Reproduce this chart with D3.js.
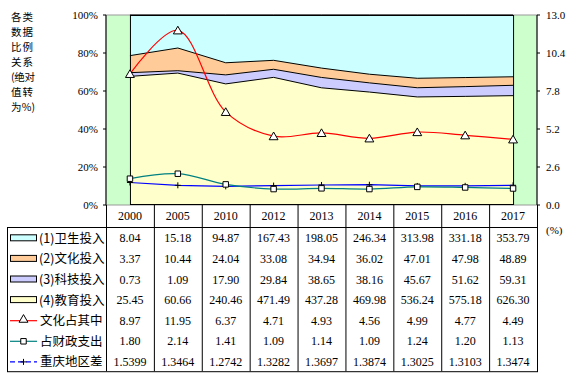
<!DOCTYPE html>
<html>
<head>
<meta charset="utf-8">
<script src="https://cdn.jsdelivr.net/npm/d3@7"></script>
<style>
  body { margin: 0; background: #fff; }
  svg { display: block; }
</style>
</head>
<body>
<div id="chart"></div>
<script>
const years = ["2000", "2005", "2010", "2012", "2013", "2014", "2015", "2016", "2017"];
const health = [8.04, 15.18, 94.87, 167.43, 198.05, 246.34, 313.98, 331.18, 353.79];
const culture = [3.37, 10.44, 24.04, 33.08, 34.94, 36.02, 47.01, 47.98, 48.89];
const science = [0.73, 1.09, 17.90, 29.84, 38.65, 38.16, 45.67, 51.62, 59.31];
const education = [25.45, 60.66, 240.46, 471.49, 437.28, 469.98, 536.24, 575.18, 626.30];
const cultureShare = [8.97, 11.95, 6.37, 4.71, 4.93, 4.56, 4.99, 4.77, 4.49];
const fiscalShare = [1.80, 2.14, 1.41, 1.09, 1.14, 1.09, 1.24, 1.20, 1.13];
const regionGap = ["1.5399", "1.3464", "1.2742", "1.3282", "1.3697", "1.3874", "1.3025", "1.3103", "1.3474"];
const leftTicks = [0, 0.2, 0.4, 0.6, 0.8, 1.0];
const rightTicks = [0, 2.6, 5.2, 7.8, 10.4, 13.0];
const titleLines = ["各类", "数据", "比例", "关系", "(绝对", "值转", "为%)"];

const W = 576, H = 376;
const plot = { left: 106, right: 537, top: 15, bottom: 205 };
const serif = "'Liberation Serif', 'Times New Roman', serif";
const cjk = "'Noto Sans CJK SC', sans-serif";

const svg = d3.select("#chart").append("svg").attr("width", W).attr("height", H);

const x = d3.scaleBand().domain(years).range([plot.left, plot.right]);
const cx = (d) => x(d) + x.bandwidth() / 2;
const yL = d3.scaleLinear().domain([0, 1]).range([plot.bottom, plot.top]);
const yR = d3.scaleLinear().domain([0, 13]).range([plot.bottom, plot.top]);

// plot background
svg.append("rect")
  .attr("x", plot.left).attr("y", plot.top)
  .attr("width", plot.right - plot.left).attr("height", plot.bottom - plot.top)
  .attr("fill", "#ccffcc").attr("stroke", "#999").attr("stroke-width", 1);

// stacked 100% areas
const rows = years.map((yr, i) => ({
  year: yr, edu: education[i], sci: science[i], cul: culture[i], hea: health[i]
}));
const keys = ["edu", "sci", "cul", "hea"];
const fills = { edu: "#ffffcc", sci: "#ccccff", cul: "#ffcc99", hea: "#ccffff" };
const stacked = d3.stack().keys(keys).offset(d3.stackOffsetExpand)(rows);

const area = d3.area().x((d) => cx(d.data.year)).y0((d) => yL(d[0])).y1((d) => yL(d[1]));
const topLine = d3.line().x((d) => cx(d.data.year)).y((d) => yL(d[1]));

svg.append("g").selectAll("path")
  .data(stacked)
  .join("path")
  .attr("d", area)
  .attr("fill", (s) => fills[s.key]);

svg.append("g").selectAll("path")
  .data(stacked)
  .join("path")
  .attr("d", topLine)
  .attr("fill", "none")
  .attr("stroke", "#000")
  .attr("stroke-width", 1);

// black frame round the stacked block
svg.append("rect")
  .attr("x", cx(years[0]) + 0.5).attr("y", plot.top + 0.5)
  .attr("width", cx(years[years.length - 1]) - cx(years[0]))
  .attr("height", plot.bottom - plot.top - 1)
  .attr("fill", "none").attr("stroke", "#000");

// lines on the right axis
const smooth = d3.line().x((d, i) => cx(years[i])).y((d) => yR(d)).curve(d3.curveCatmullRom);
const straight = d3.line().x((d, i) => cx(years[i])).y((d) => yR(d));

svg.append("path").attr("d", straight(regionGap.map(Number)))
  .attr("fill", "none").attr("stroke", "#0000ff").attr("stroke-width", 1.2);
svg.append("path").attr("d", smooth(fiscalShare))
  .attr("fill", "none").attr("stroke", "#008080").attr("stroke-width", 1.2);
svg.append("path").attr("d", smooth(cultureShare))
  .attr("fill", "none").attr("stroke", "#ff0000").attr("stroke-width", 1.2);

const tri = d3.symbol().type(d3.symbolTriangle).size(34);
const sq = d3.symbol().type(d3.symbolSquare).size(30);

function plusMark(g, px, py) {
  g.append("path")
    .attr("d", `M${px - 3},${py}H${px + 3}M${px},${py - 3}V${py + 3}`)
    .attr("stroke", "#000").attr("stroke-width", 1);
}

const marks = svg.append("g");
regionGap.forEach((v, i) => plusMark(marks, cx(years[i]), yR(+v)));
fiscalShare.forEach((v, i) => {
  marks.append("path").attr("d", sq)
    .attr("transform", `translate(${cx(years[i])},${yR(v)})`)
    .attr("fill", "#fff").attr("stroke", "#000");
});
cultureShare.forEach((v, i) => {
  marks.append("path").attr("d", tri)
    .attr("transform", `translate(${cx(years[i])},${yR(v) + 1})`)
    .attr("fill", "#fff").attr("stroke", "#000");
});

// left axis
const gl = svg.append("g").attr("font-family", serif).attr("font-size", 11);
leftTicks.forEach((t) => {
  gl.append("line").attr("x1", plot.left - 3).attr("x2", plot.left)
    .attr("y1", yL(t)).attr("y2", yL(t)).attr("stroke", "#000");
  gl.append("text").attr("x", 98).attr("y", yL(t) + 4)
    .attr("text-anchor", "end").text(d3.format(".0%")(t));
});
gl.append("line").attr("x1", plot.left).attr("x2", plot.left)
  .attr("y1", plot.top).attr("y2", plot.bottom).attr("stroke", "#000");

// right axis
const gr = svg.append("g").attr("font-family", serif).attr("font-size", 11);
rightTicks.forEach((t) => {
  gr.append("line").attr("x1", plot.right).attr("x2", plot.right + 3)
    .attr("y1", yR(t)).attr("y2", yR(t)).attr("stroke", "#000");
  gr.append("text").attr("x", 546).attr("y", yR(t) + 4).text(t.toFixed(1));
});
gr.append("line").attr("x1", plot.right).attr("x2", plot.right)
  .attr("y1", plot.top).attr("y2", plot.bottom).attr("stroke", "#000");
gr.append("text").attr("x", 546).attr("y", 234).text("(%)");

// title at left
svg.append("g").selectAll("text")
  .data(titleLines)
  .join("text")
  .attr("x", 11).attr("y", (d, i) => 21 + i * 15)
  .attr("font-family", cjk).attr("font-size", 10.5)
  .attr("textLength", (d) => (d.length > 2 ? 24 : 22))
  .text((d) => d);

// data table
const tableLeft = 7, headTop = plot.bottom, bodyTop = 227, rowH = 20.6;
const bodyBottom = bodyTop + rowH * 7;
const tg = svg.append("g");

tg.append("rect")
  .attr("x", tableLeft + 0.5).attr("y", bodyTop + 0.5)
  .attr("width", plot.right - tableLeft).attr("height", bodyBottom - bodyTop)
  .attr("fill", "none").attr("stroke", "#000");
years.forEach((yr) => {
  tg.append("line").attr("x1", x(yr) + 0.5).attr("x2", x(yr) + 0.5)
    .attr("y1", headTop).attr("y2", bodyBottom).attr("stroke", "#000");
});
tg.append("line").attr("x1", plot.right + 0.5).attr("x2", plot.right + 0.5)
  .attr("y1", headTop).attr("y2", bodyBottom).attr("stroke", "#000");

tg.selectAll("text.yr")
  .data(years)
  .join("text")
  .attr("class", "yr")
  .attr("x", cx).attr("y", 220)
  .attr("text-anchor", "middle")
  .attr("font-family", serif).attr("font-size", 12)
  .text((d) => d);

const tableRows = [
  { label: "(1)卫生投入", vals: health.map((v) => v.toFixed(2)), kind: "area", color: fills.hea },
  { label: "(2)文化投入", vals: culture.map((v) => v.toFixed(2)), kind: "area", color: fills.cul },
  { label: "(3)科技投入", vals: science.map((v) => v.toFixed(2)), kind: "area", color: fills.sci },
  { label: "(4)教育投入", vals: education.map((v) => v.toFixed(2)), kind: "area", color: fills.edu },
  { label: "文化占其中", vals: cultureShare.map((v) => v.toFixed(2)), kind: "tri", color: "#ff0000" },
  { label: "占财政支出", vals: fiscalShare.map((v) => v.toFixed(2)), kind: "sq", color: "#008080" },
  { label: "重庆地区差", vals: regionGap, kind: "plus", color: "#0000ff" }
];

tableRows.forEach((r, i) => {
  const ry = bodyTop + rowH * (i + 0.5) + 1;
  if (r.kind === "area") {
    tg.append("rect").attr("x", 10.5).attr("y", ry - 3.5).attr("width", 26).attr("height", 6)
      .attr("fill", r.color).attr("stroke", "#000");
  } else {
    tg.append("line").attr("x1", 10).attr("x2", 37).attr("y1", ry).attr("y2", ry)
      .attr("stroke", r.color).attr("stroke-width", 1.2)
      .attr("stroke-dasharray", r.kind === "plus" ? "5,3" : null);
    if (r.kind === "tri") {
      tg.append("path").attr("d", tri).attr("transform", `translate(23.5,${ry - 1})`)
        .attr("fill", "#fff").attr("stroke", "#000");
    } else if (r.kind === "sq") {
      tg.append("path").attr("d", sq).attr("transform", `translate(23.5,${ry})`)
        .attr("fill", "#fff").attr("stroke", "#000");
    } else {
      plusMark(tg, 23.5, ry);
    }
  }
  tg.append("text").attr("x", r.kind === "area" ? 39 : 40).attr("y", ry + 4.5)
    .attr("font-family", cjk).attr("font-size", 12.5).text(r.label);
  r.vals.forEach((v, j) => {
    tg.append("text").attr("x", cx(years[j])).attr("y", ry + 4)
      .attr("text-anchor", "middle")
      .attr("font-family", serif).attr("font-size", 12)
      .text(v);
  });
});
</script>
</body>
</html>
